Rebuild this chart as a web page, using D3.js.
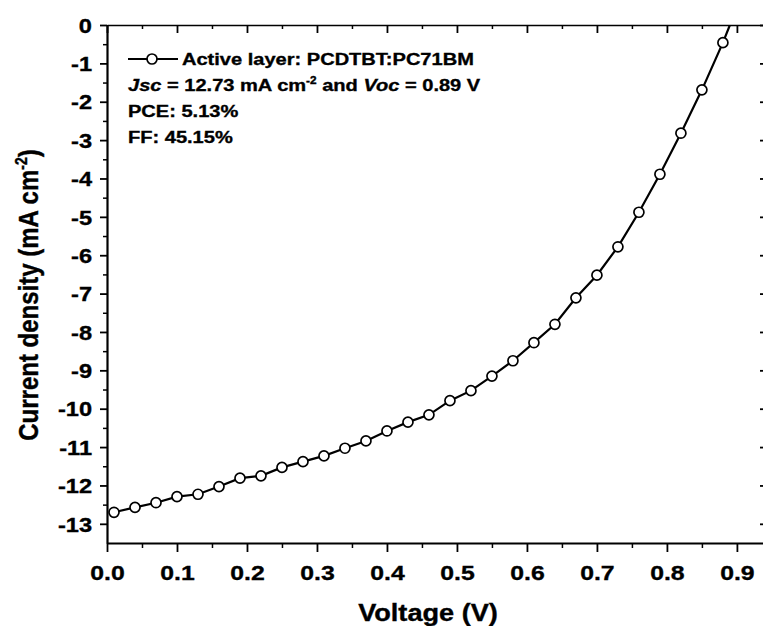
<!DOCTYPE html>
<html>
<head>
<meta charset="utf-8">
<script src="https://cdn.jsdelivr.net/npm/d3@7"></script>
<style>
  html, body { margin: 0; padding: 0; background: #fff; }
  svg { display: block; }
  text { font-family: "Liberation Sans", Arial, sans-serif; font-weight: bold; fill: #000;
         stroke: #000; stroke-width: 0.35px; }
</style>
</head>
<body>
<svg id="chart" width="763" height="626"></svg>
<script>
// J–V curve of the PCDTBT:PC71BM device
const voltage = [0.01, 0.04, 0.07, 0.10, 0.13, 0.16, 0.19, 0.22, 0.25, 0.28,
                 0.31, 0.34, 0.37, 0.40, 0.43, 0.46, 0.49, 0.52, 0.55, 0.58,
                 0.61, 0.64, 0.67, 0.70, 0.73, 0.76, 0.79, 0.82, 0.85, 0.88];
const current = [-12.70, -12.57, -12.45, -12.29, -12.23, -12.03, -11.81, -11.75, -11.53, -11.38,
                 -11.23, -11.03, -10.84, -10.58, -10.35, -10.16, -9.79, -9.53, -9.15, -8.75,
                 -8.28, -7.80, -7.11, -6.52, -5.78, -4.88, -3.89, -2.82, -1.69, -0.46];
// open-circuit point where the curve meets J = 0
const voc = 0.89;

const xTicks = [0.0, 0.1, 0.2, 0.3, 0.4, 0.5, 0.6, 0.7, 0.8, 0.9];
const yTicks = [0, -1, -2, -3, -4, -5, -6, -7, -8, -9, -10, -11, -12, -13];

const plotLeft = 107, plotRight = 767, plotTop = 25, plotBottom = 543;
const S = 1.18;   // horizontal stretch of the lettering

const svg = d3.select("#chart");
const x = d3.scaleLinear().domain([0, 0.943]).range([plotLeft, plotRight]);
const y = d3.scaleLinear().domain([-13.5, 0]).range([plotBottom, plotTop]);

const xMinor = d3.range(0.05, 0.94, 0.1);
const yMinor = d3.range(-13, 0).map(v => v + 0.5);

function styleAxis(g) {
  g.select(".domain").attr("stroke", "#000").attr("stroke-width", 2.2);
  g.selectAll(".tick line").attr("stroke", "#000").attr("stroke-width", 1.8);
}
function minorStyle(g) {
  g.select(".domain").remove();
  g.selectAll("line").attr("stroke", "#000").attr("stroke-width", 1.5);
}
function tickText(sel, size, transform) {
  sel.attr("transform", transform)
    .style("font-size", size + "px")
    .style("font-family", "'Liberation Sans', Arial, sans-serif")
    .style("font-weight", "bold")
    .style("stroke", "#000").style("stroke-width", "0.35px");
}

// left axis
const gL = svg.append("g").attr("transform", `translate(${plotLeft},0)`)
  .call(d3.axisLeft(y).tickValues(yTicks).tickSize(7).tickSizeOuter(0).tickFormat(d => String(d)));
styleAxis(gL);
tickText(gL.selectAll(".tick text").attr("x", null).attr("dy", "0.36em"), 20,
         `translate(-15,0) scale(${S},1)`);
svg.append("g").attr("transform", `translate(${plotLeft},0)`)
  .call(d3.axisLeft(y).tickValues(yMinor).tickSize(4).tickFormat(""))
  .call(minorStyle);

// bottom axis
const gB = svg.append("g").attr("transform", `translate(0,${plotBottom})`)
  .call(d3.axisBottom(x).tickValues(xTicks).tickSize(9).tickSizeOuter(0).tickFormat(d3.format(".1f")));
styleAxis(gB);
tickText(gB.selectAll(".tick text").attr("y", null).attr("dy", "0"), 21,
         `translate(0,37) scale(${S},1)`);
svg.append("g").attr("transform", `translate(0,${plotBottom})`)
  .call(d3.axisBottom(x).tickValues(xMinor).tickSize(5).tickFormat(""))
  .call(minorStyle);

// top axis (ticks inward)
const gT = svg.append("g").attr("transform", `translate(0,${plotTop})`)
  .call(d3.axisBottom(x).tickValues(xTicks).tickSize(8).tickSizeOuter(0).tickFormat(""));
styleAxis(gT);
gT.select(".domain").attr("stroke-width", 1.6);
svg.append("g").attr("transform", `translate(0,${plotTop})`)
  .call(d3.axisBottom(x).tickValues(xMinor).tickSize(4).tickFormat(""))
  .call(minorStyle);

// right axis (ticks inward)
const gR = svg.append("g").attr("transform", `translate(${plotRight},0)`)
  .call(d3.axisLeft(y).tickValues(yTicks).tickSize(7).tickSizeOuter(0).tickFormat(""));
styleAxis(gR);

// curve
const pts = voltage.map((v, i) => [v, current[i]]);
const linePts = pts.concat([[voc, 0]]);
svg.append("clipPath").attr("id", "plotclip")
  .append("rect").attr("x", plotLeft).attr("y", plotTop)
  .attr("width", plotRight - plotLeft).attr("height", plotBottom - plotTop);
svg.append("path")
  .datum(linePts)
  .attr("clip-path", "url(#plotclip)")
  .attr("fill", "none").attr("stroke", "#000").attr("stroke-width", 2.2)
  .attr("d", d3.line().x(d => x(d[0])).y(d => y(d[1])));
svg.append("g").selectAll("circle").data(pts).join("circle")
  .attr("cx", d => x(d[0])).attr("cy", d => y(d[1])).attr("r", 5)
  .attr("fill", "#fff").attr("stroke", "#000").attr("stroke-width", 1.7);

// text helper with horizontal stretch
function label(g, px, py, size, anchor) {
  return g.append("text")
    .attr("transform", `translate(${px},${py}) scale(${S},1)`)
    .attr("text-anchor", anchor || "start")
    .style("font-size", size + "px");
}

// legend and device parameters
const lg = svg.append("g");
lg.append("line").attr("x1", 128).attr("x2", 178).attr("y1", 59).attr("y2", 59)
  .attr("stroke", "#000").attr("stroke-width", 2.2);
lg.append("circle").attr("cx", 152).attr("cy", 59).attr("r", 5)
  .attr("fill", "#fff").attr("stroke", "#000").attr("stroke-width", 1.7);
label(lg, 182, 65, 17).text("Active layer: PCDTBT:PC71BM");

const t2 = label(lg, 128, 91, 17);
t2.append("tspan").style("font-style", "italic").text("Jsc");
t2.append("tspan").text(" = 12.73 mA cm");
t2.append("tspan").attr("dy", -7).style("font-size", "10px").text("-2");
t2.append("tspan").attr("dy", 7).text(" and ");
t2.append("tspan").style("font-style", "italic").text("Voc");
t2.append("tspan").text(" = 0.89 V");

label(lg, 128, 117, 17).text("PCE: 5.13%");
label(lg, 128, 143, 17).text("FF: 45.15%");

// axis titles
label(svg, 428, 621, 23, "middle").text("Voltage (V)");
const yt = svg.append("text")
  .attr("transform", `translate(38,295) scale(${S},1) rotate(-90)`)
  .attr("text-anchor", "middle")
  .style("font-size", "24px");
yt.append("tspan").text("Current density (mA cm");
yt.append("tspan").attr("dy", -9).style("font-size", "14px").text("-2");
yt.append("tspan").attr("dy", 9).text(")");
</script>
</body>
</html>
